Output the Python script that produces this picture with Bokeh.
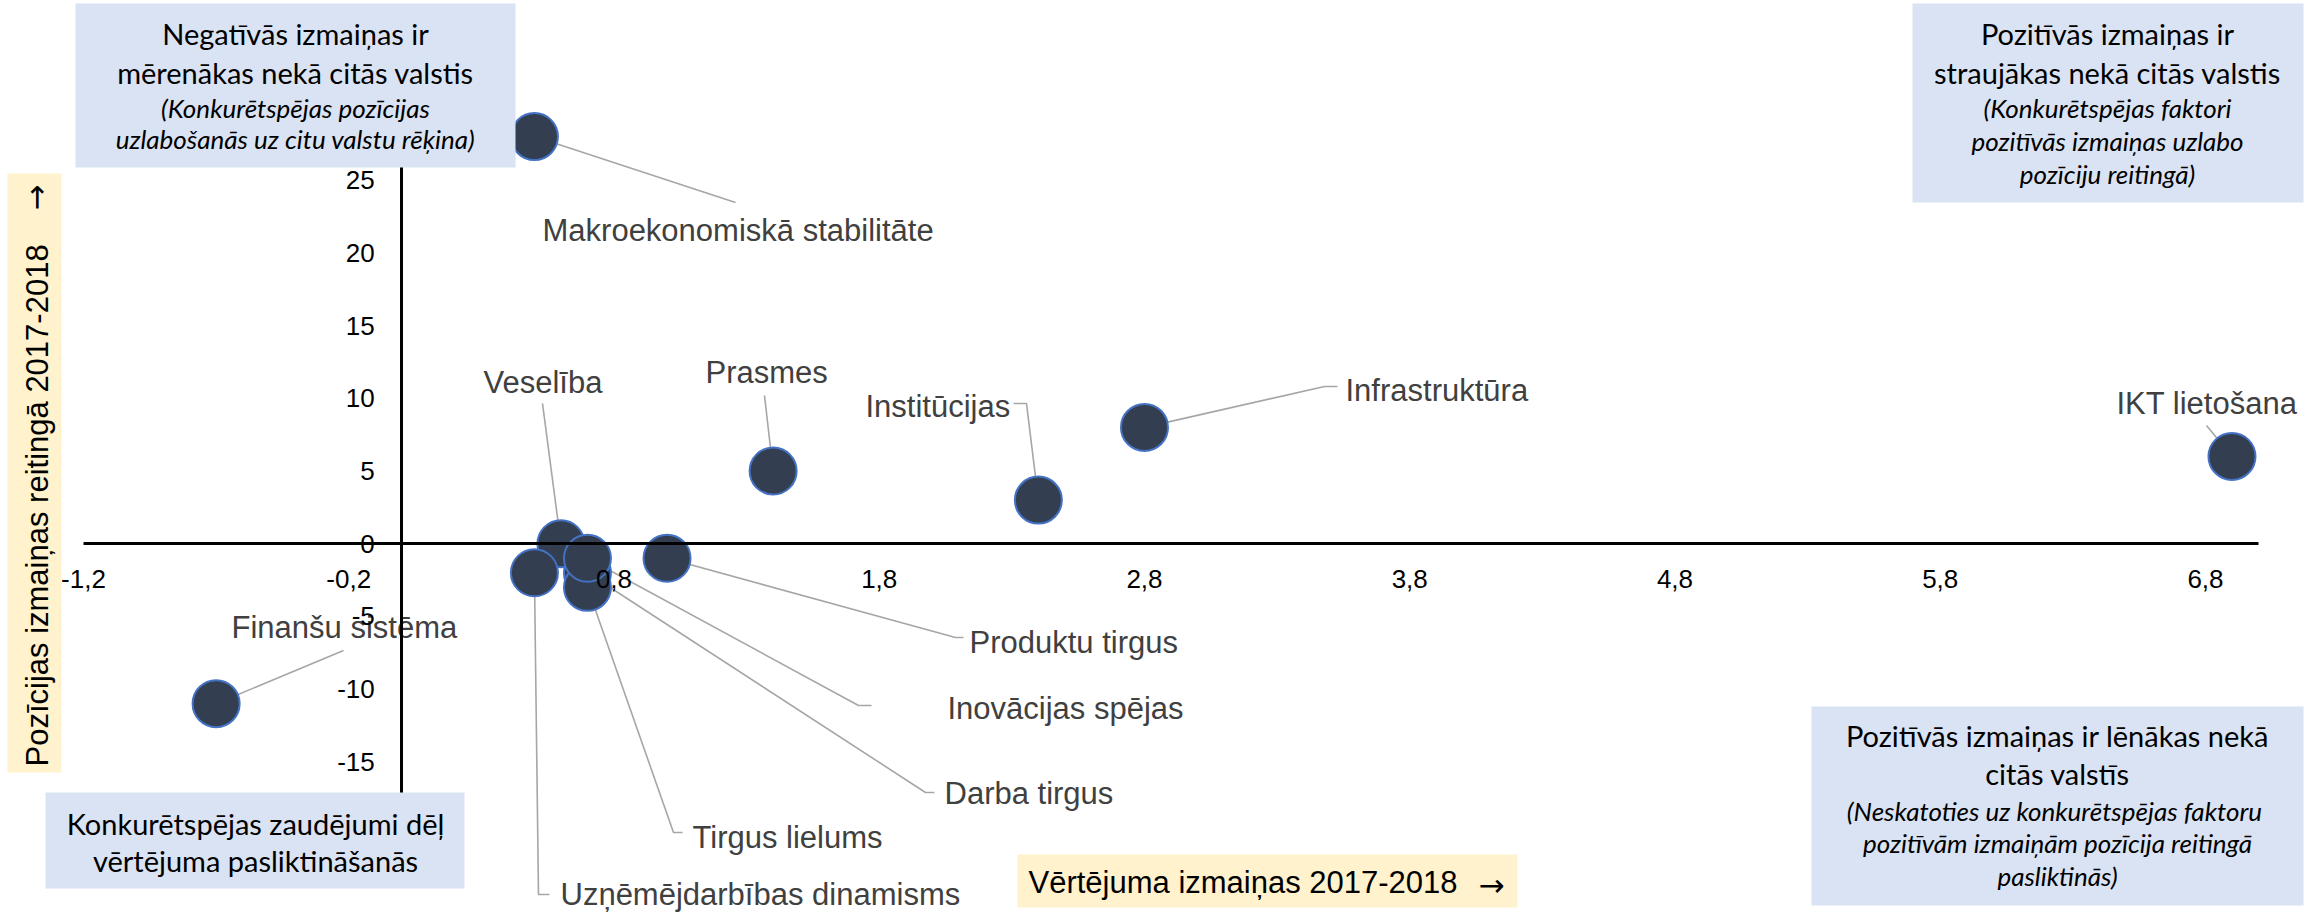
import math
from bokeh.plotting import figure
from bokeh.models import Range1d, FixedTicker, CustomJSTickFormatter, ColumnDataSource
from bokeh.embed import file_html
from bokeh.resources import INLINE
from bokeh.core.properties import value

# ---------------- data ----------------
factors = ["Institūcijas", "Infrastruktūra", "IKT lietošana", "Makroekonomiskā stabilitāte",
           "Veselība", "Prasmes", "Produktu tirgus", "Darba tirgus", "Finanšu sistēma",
           "Tirgus lielums", "Uzņēmējdarbības dinamisms", "Inovācijas spējas"]
score_change = [2.4, 2.8, 6.9, 0.5, 0.6, 1.4, 1.0, 0.7, -0.7, 0.7, 0.5, 0.7]
rank_change = [3, 8, 6, 28, 0, 5, -1, -2, -11, -3, -2, -1]
x_ticks = [-1.2, -0.2, 0.8, 1.8, 2.8, 3.8, 4.8, 5.8, 6.8]
y_ticks = [-20, -15, -10, -5, 0, 5, 10, 15, 20, 25, 30]
x_bounds = (-1.2, 7.0)
y_bounds = (-20, 30)

x_title = "Vērtējuma izmaiņas 2017-2018"
y_title = "Pozīcijas izmaiņas reitingā 2017-2018"
arrow = "→"

quadrant_texts = {
    "tl": [("Negatīvās izmaiņas ir", "normal"), ("mērenākas nekā citās valstis", "normal"),
           ("(Konkurētspējas pozīcijas", "italic"), ("uzlabošanās uz citu valstu rēķina)", "italic")],
    "tr": [("Pozitīvās izmaiņas ir", "normal"), ("straujākas nekā citās valstis", "normal"),
           ("(Konkurētspējas faktori", "italic"), ("pozitīvās izmaiņas uzlabo", "italic"),
           ("pozīciju reitingā)", "italic")],
    "bl": [("Konkurētspējas zaudējumi dēļ", "normal"), ("vērtējuma pasliktināšanās", "normal")],
    "br": [("Pozitīvās izmaiņas ir lēnākas nekā", "normal"), ("citās valstīs", "normal"),
           ("(Neskatoties uz konkurētspējas  faktoru", "italic"),
           ("pozitīvām izmaiņām pozīcija reitingā", "italic"), ("pasliktinās)", "italic")],
}

# ---------------- layout (screen pixels of the page) ----------------
W, H = 2321, 916
OFF = 0
PX_LEFT, PX_RIGHT = 83, 2258      # x = -1.2 .. 7.0
PY_TOP, PY_BOTTOM = 107, 834      # y = 30 .. -20
BL = 10                           # baseline correction for text glyphs
ppx = (PX_RIGHT - PX_LEFT) / (x_bounds[1] - x_bounds[0])
ppy = (PY_BOTTOM - PY_TOP) / (y_bounds[1] - y_bounds[0])


def sx2x(sx):
    return x_bounds[0] + (sx - PX_LEFT) / ppx


def sy2y(sy):
    return y_bounds[1] - (sy - PY_TOP) / ppy


# label placement: left x, baseline y, leader elbows (screen px)
label_layout = {
    "Institūcijas": (865, 416, [(1026, 403), (1013, 403)]),
    "Infrastruktūra": (1345, 400, [(1324, 386), (1337, 386)]),
    "IKT lietošana": (2116, 413, [(2206, 425)]),
    "Makroekonomiskā stabilitāte": (542, 240, [(735, 202)]),
    "Veselība": (483, 392, [(542, 403)]),
    "Prasmes": (705, 382, [(764, 395)]),
    "Produktu tirgus": (969, 652, [(955, 637), (963, 637)]),
    "Darba tirgus": (944, 803, [(925, 792), (934, 792)]),
    "Finanšu sistēma": (231, 637, [(343, 650)]),
    "Tirgus lielums": (692, 847, [(673, 832), (682, 832)]),
    "Uzņēmējdarbības dinamisms": (560, 904, [(538, 894), (549, 894)]),
    "Inovācijas spējas": (947, 718, [(858, 705), (871, 705)]),
}

# boxes: left, right, top, bottom (screen px); text center x; line baselines
boxes = {
    "tl": ((75, 515, 3, 167), 295, [43, 82, 117, 148]),
    "tr": ((1912, 2303, 3, 202), 2107, [43, 82, 117, 150, 183]),
    "bl": ((45, 464, 792, 888), 255, [833, 870]),
    "br": ((1811, 2303, 706, 905), 2057, [745, 783, 820, 852, 885]),
}

p = figure(width=W, height=H, output_backend="svg", toolbar_location=None,
           x_range=Range1d(sx2x(OFF), sx2x(OFF + W)),
           y_range=Range1d(sy2y(OFF + H), sy2y(OFF)),
           min_border=0)
p.min_border_left = p.min_border_right = p.min_border_top = p.min_border_bottom = 0
p.outline_line_color = None
p.xgrid.visible = False
p.ygrid.visible = False
p.background_fill_color = "white"
p.border_fill_color = "white"

# axes crossing at zero
for ax in (p.xaxis[0], p.yaxis[0]):
    ax.fixed_location = 0
    ax.axis_line_color = "black"
    ax.axis_line_width = 3
    ax.major_tick_line_color = None
    ax.minor_tick_line_color = None
    ax.major_tick_out = 0
    ax.major_tick_in = 0
    ax.major_label_text_font = "Liberation Sans"
    ax.major_label_text_font_size = "26px"
    ax.major_label_text_color = "black"
p.xaxis.bounds = x_bounds
p.yaxis.bounds = y_bounds
p.xaxis.ticker = FixedTicker(ticks=x_ticks, minor_ticks=[])
p.yaxis.ticker = FixedTicker(ticks=y_ticks, minor_ticks=[])
p.xaxis.formatter = CustomJSTickFormatter(code="return tick.toFixed(1).replace('.', ',')")
p.yaxis.formatter = CustomJSTickFormatter(code="return tick.toFixed(0)")
p.xaxis.major_label_standoff = 26
p.yaxis.major_label_standoff = 27

# leader lines
xs, ys = [], []
lab_x, lab_y = [], []
for name, xv, yv in zip(factors, score_change, rank_change):
    lx, lb, elbows = label_layout[name]
    xs.append([xv] + [sx2x(e[0]) for e in elbows])
    ys.append([yv] + [sy2y(e[1]) for e in elbows])
    lab_x.append(sx2x(lx))
    lab_y.append(sy2y(lb - BL))

p.multi_line(xs, ys, line_color="#A6A6A6", line_width=1.6)

src = ColumnDataSource(dict(x=score_change, y=rank_change, name=factors,
                            lx=lab_x, ly=lab_y))
p.scatter("x", "y", source=src, size=47, fill_color="#333F50",
          line_color="#4472C4", line_width=2)
p.text("lx", "ly", text="name", source=src, text_font=value("Liberation Sans"),
       text_font_size="31px", text_color="#404040", text_align="left",
       text_baseline="alphabetic")

# quadrant boxes
for key, ((l, r, t, b), cx, baselines) in boxes.items():
    q = p.quad(left=[sx2x(l)], right=[sx2x(r)], top=[sy2y(t)], bottom=[sy2y(b)],
               fill_color="#DAE3F3", line_color=None)
    q.level = "annotation"
    lines = quadrant_texts[key]
    tsrc = ColumnDataSource(dict(
        x=[sx2x(cx)] * len(lines),
        y=[sy2y(bl - BL) for bl in baselines],
        t=[ln[0] for ln in lines],
        st=[ln[1] for ln in lines],
        fs=["29px" if ln[1] == "normal" else "26px" for ln in lines],
    ))
    tr = p.text("x", "y", text="t", source=tsrc, text_font=value("Lato"),
                text_font_style="st", text_font_size="fs", text_color="black",
                text_align="center", text_baseline="alphabetic")
    tr.level = "annotation"

# axis title boxes
q = p.quad(left=[sx2x(7)], right=[sx2x(61)], top=[sy2y(173)], bottom=[sy2y(772)],
           fill_color="#FFF2CC", line_color=None)
q.level = "annotation"
t = p.text([sx2x(47 - BL)], [sy2y(766)], text=[y_title], angle=math.pi / 2,
           text_font=value("Liberation Sans"), text_font_size="31px", text_color="black",
           text_align="left", text_baseline="alphabetic")
t.level = "annotation"
t = p.text([sx2x(35)], [sy2y(197)], text=[arrow], angle=math.pi / 2,
           text_font=value("DejaVu Sans"), text_font_size="31px", text_color="black",
           text_align="center", text_baseline="middle")
t.level = "annotation"

q = p.quad(left=[sx2x(1017)], right=[sx2x(1517)], top=[sy2y(854)], bottom=[sy2y(907)],
           fill_color="#FFF2CC", line_color=None)
q.level = "annotation"
t = p.text([sx2x(1028)], [sy2y(892 - BL)], text=[x_title],
           text_font=value("Liberation Sans"), text_font_size="31px", text_color="black",
           text_align="left", text_baseline="alphabetic")
t.level = "annotation"
t = p.text([sx2x(1491)], [sy2y(884)], text=[arrow],
           text_font=value("DejaVu Sans"), text_font_size="31px", text_color="black",
           text_align="center", text_baseline="middle")
t.level = "annotation"

open("out.html", "w").write(file_html(p, INLINE))
